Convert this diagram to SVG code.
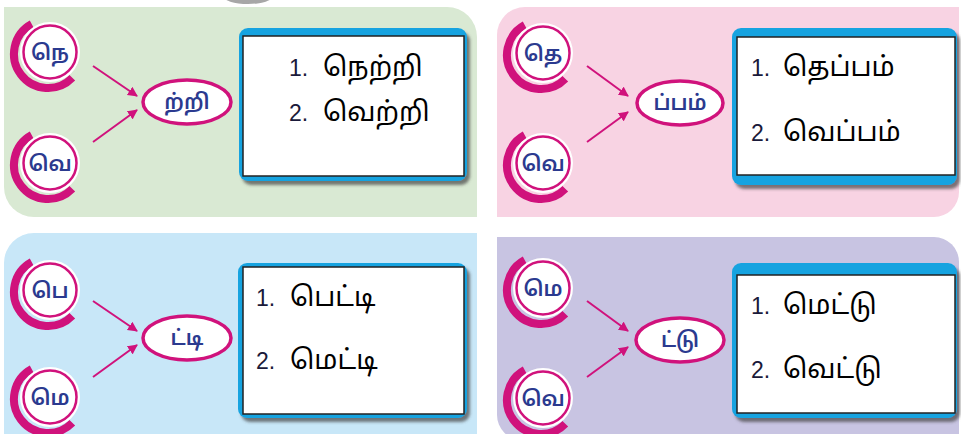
<svg xmlns="http://www.w3.org/2000/svg" width="961" height="434" viewBox="0 0 961 434">
<style>
.cres{fill:none;stroke:#d0127c;stroke-width:8}
.gap{fill:#fff}
.ring{fill:#fff;stroke:#d0127c;stroke-width:2.5}
.oval{fill:#fff;stroke:#d0127c;stroke-width:3.5}
.ctext{font-family:"Noto Sans Tamil","Latha","Noto Sans",sans-serif;font-size:21px;font-weight:600;fill:#2b3a8f;text-anchor:middle}
.frame{fill:#19a3e0}
.card{fill:#fff;stroke:#222;stroke-width:1.5}
.num{font-family:"Liberation Sans",Arial,sans-serif;font-size:23px;fill:#1a1a3a}
.word{font-family:"Noto Sans Tamil","Latha","Noto Sans",sans-serif;font-size:27px;fill:#000}
.arrow{stroke:#d0127c;stroke-width:2;fill:none;marker-end:url(#ah)}
</style>
<defs>
<marker id="ah" viewBox="0 0 10 10" refX="9" refY="5" markerWidth="5" markerHeight="5" orient="auto" markerUnits="strokeWidth">
<path d="M0,0 L10,5 L0,10 Z" fill="#d0127c"/>
</marker>
<filter id="sh" x="-10%" y="-10%" width="125%" height="130%">
<feDropShadow dx="3" dy="4" stdDeviation="1.5" flood-color="#444" flood-opacity="0.7"/>
</filter>
<g id="bead">
<path class="cres" d="M-15.3,-30.9 A34,34 0 1 0 25.3,22.7"/>
<circle class="gap" cx="3" cy="-3" r="30"/>
<circle class="ring" cx="3" cy="-3" r="26.5"/>
</g>
</defs>
<rect width="961" height="434" fill="#fff"/>
<g id="panels">
<path d="M4,7 H447 A30,30 0 0 1 477,37 V217 H34 A30,30 0 0 1 4,187 Z" fill="#d9e9d3"/>
<path d="M525,7 H959 V192 A25,25 0 0 1 934,217 H497 V35 A28,28 0 0 1 525,7 Z" fill="#f8d3e3"/>
<path d="M34,233 H477 V434 H4 V263 A30,30 0 0 1 34,233 Z" fill="#c8e7f8"/>
<path d="M497,237 H934 A25,25 0 0 1 959,262 V440 H522 A25,25 0 0 1 497,415 Z" fill="#c8c4e2"/>
<ellipse cx="248" cy="-4" rx="25" ry="8" fill="#8a8a8a" opacity="0.75"/>
</g>
<g id="connectors">
<line class="arrow" x1="93" y1="66" x2="137" y2="96"/>
<line class="arrow" x1="93" y1="142" x2="137" y2="110"/>
<line class="arrow" x1="587" y1="66" x2="628" y2="96"/>
<line class="arrow" x1="587" y1="142" x2="628" y2="112"/>
<line class="arrow" x1="93" y1="301" x2="137" y2="331"/>
<line class="arrow" x1="93" y1="377" x2="137" y2="345"/>
<line class="arrow" x1="587" y1="301" x2="628" y2="331"/>
<line class="arrow" x1="587" y1="377" x2="628" y2="347"/>
</g>
<g id="n-ne">
<use href="#bead" x="47" y="55"/>
<text class="ctext" x="50" y="60">நெ</text>
</g>
<g id="n-ve1">
<use href="#bead" x="47" y="166"/>
<text class="ctext" x="50" y="171">வெ</text>
</g>
<g id="n-rri">
<ellipse class="oval" cx="187" cy="102" rx="44" ry="22"/>
<text class="ctext" x="187" y="109">ற்றி</text>
</g>
<g id="b-rri">
<rect class="frame" x="239" y="28" width="228" height="153" rx="9" filter="url(#sh)"/>
<rect class="card" x="243" y="36" width="221" height="140"/>
<text x="289" y="76"><tspan class="num">1. </tspan><tspan class="word" x="323">நெற்றி</tspan></text>
<text x="289" y="121"><tspan class="num">2. </tspan><tspan class="word" x="323">வெற்றி</tspan></text>
</g>
<g id="n-the">
<use href="#bead" x="540" y="56"/>
<text class="ctext" x="543" y="61">தெ</text>
</g>
<g id="n-ve2">
<use href="#bead" x="540" y="166"/>
<text class="ctext" x="543" y="171">வெ</text>
</g>
<g id="n-ppam">
<ellipse class="oval" cx="680" cy="103" rx="43" ry="22"/>
<text class="ctext" x="680" y="110">ப்பம்</text>
</g>
<g id="b-ppam">
<rect class="frame" x="732" y="28" width="225" height="157" rx="9" filter="url(#sh)"/>
<rect class="card" x="737" y="37" width="218" height="138"/>
<text x="751" y="76"><tspan class="num">1. </tspan><tspan class="word" x="783">தெப்பம்</tspan></text>
<text x="751" y="141"><tspan class="num">2. </tspan><tspan class="word" x="783">வெப்பம்</tspan></text>
</g>
<g id="n-pe">
<use href="#bead" x="47" y="293"/>
<text class="ctext" x="50" y="298">பெ</text>
</g>
<g id="n-me1">
<use href="#bead" x="47" y="400"/>
<text class="ctext" x="50" y="405">மெ</text>
</g>
<g id="n-tti">
<ellipse class="oval" cx="187" cy="338" rx="44" ry="22"/>
<text class="ctext" x="187" y="345">ட்டி</text>
</g>
<g id="b-tti">
<rect class="frame" x="238" y="263" width="229" height="155" rx="9" filter="url(#sh)"/>
<rect class="card" x="243" y="267" width="221" height="147"/>
<text x="256" y="306"><tspan class="num">1. </tspan><tspan class="word" x="290">பெட்டி</tspan></text>
<text x="256" y="369"><tspan class="num">2. </tspan><tspan class="word" x="290">மெட்டி</tspan></text>
</g>
<g id="n-me2">
<use href="#bead" x="540" y="291"/>
<text class="ctext" x="543" y="296">மெ</text>
</g>
<g id="n-ve3">
<use href="#bead" x="540" y="401"/>
<text class="ctext" x="543" y="406">வெ</text>
</g>
<g id="n-ttu">
<ellipse class="oval" cx="680" cy="340" rx="44" ry="22"/>
<text class="ctext" x="680" y="347">ட்டு</text>
</g>
<g id="b-ttu">
<rect class="frame" x="732" y="263" width="225" height="155" rx="9" filter="url(#sh)"/>
<rect class="card" x="737" y="275" width="218" height="138"/>
<text x="751" y="314"><tspan class="num">1. </tspan><tspan class="word" x="783">மெட்டு</tspan></text>
<text x="751" y="378"><tspan class="num">2. </tspan><tspan class="word" x="783">வெட்டு</tspan></text>
</g>
</svg>
